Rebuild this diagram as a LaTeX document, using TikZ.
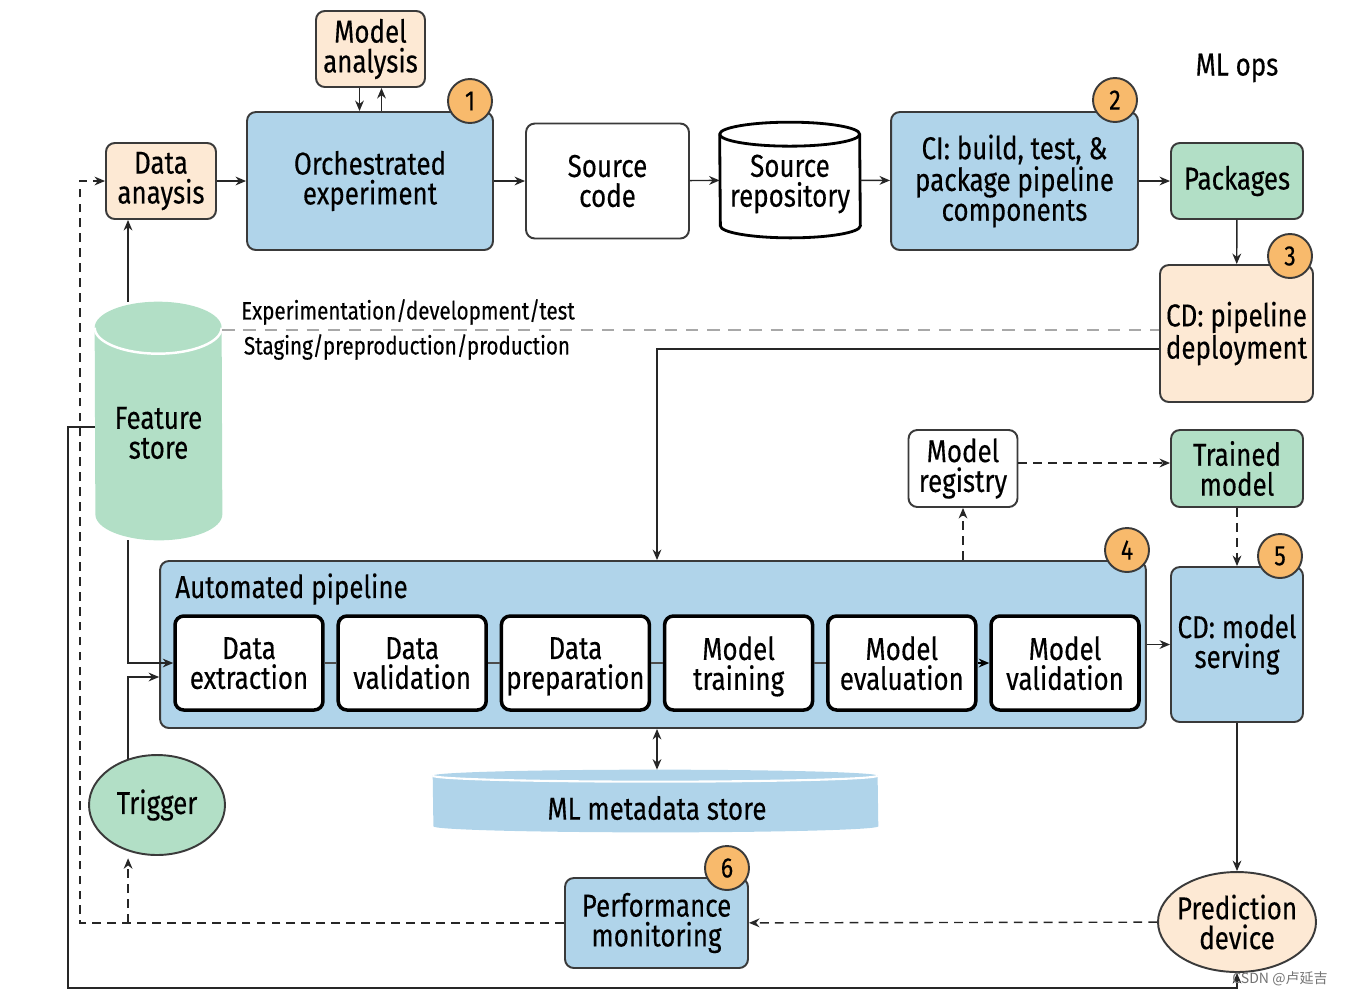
\documentclass[tikz,border=0pt]{standalone}
\usepackage{fontspec}
\setmainfont{Fira Sans}[FakeStretch=0.82,FakeBold=0.3]
\newfontfamily\cjkfont{Noto Sans CJK SC}
\usetikzlibrary{arrows.meta,shapes.geometric}

\definecolor{mlblue}{HTML}{B0D4EA}
\definecolor{mlpeach}{HTML}{FDE9D4}
\definecolor{mlgreen}{HTML}{B2DFC6}
\definecolor{mlorange}{HTML}{F8BA6C}
\definecolor{edgegray}{HTML}{3A3A3A}
\definecolor{divgray}{HTML}{A8A8A8}

\newcommand{\mainfs}{\fontsize{18}{17}\selectfont}
\newcommand{\smallfs}{\fontsize{14.3}{14}\selectfont}
\newcommand{\badgefs}{\fontsize{16}{16}\selectfont}

\begin{document}
\begin{tikzpicture}[x=0.02cm, y=-0.02cm,
  >={Stealth[length=6pt,width=5pt]},
  box/.style={draw=edgegray, line width=1.1pt, rounded corners=5pt, align=center, inner sep=0pt, font=\mainfs},
  stepbox/.style={draw=black, fill=white, line width=2pt, rounded corners=5pt, minimum width=2.96cm, minimum height=1.88cm, align=center, inner sep=0pt, font=\mainfs},
  badge/.style={circle, draw=edgegray, line width=1.1pt, fill=mlorange, minimum size=0.88cm, inner sep=0pt, font=\badgefs},
  oval/.style={ellipse, draw=edgegray, line width=1.1pt, minimum height=2cm, inner xsep=-6pt, inner ysep=0pt, align=center, font=\mainfs},
  txt/.style={align=center, inner sep=0pt, font=\mainfs},
  hold/.style={inner sep=0pt},
  link/.style={draw=black!85, line width=0.8pt},
  dlink/.style={link, dash pattern=on 5pt off 3.5pt},
  steplink/.style={draw=black!70, line width=1.2pt}]

  \useasboundingbox (0,0) rectangle (1345,995);

  \node[box, fill=mlpeach, minimum width=2.18cm, minimum height=1.52cm] (manal) at (370.5,49) {Model\\analysis};
  \node[box, fill=mlpeach, minimum width=2.2cm, minimum height=1.52cm] (danal) at (161,181) {Data\\anaysis};
  \node[box, fill=mlblue, minimum width=4.92cm, minimum height=2.76cm] (orch) at (370,181) {Orchestrated\\experiment};
  \node[box, fill=white, minimum width=3.26cm, minimum height=2.3cm] (srccode) at (607.5,181) {Source\\code};
  \node[box, fill=mlblue, minimum width=4.94cm, minimum height=2.76cm] (ci) at (1014.5,181) {CI: build, test, \&\\package pipeline\\components};
  \node[box, fill=mlgreen, minimum width=2.64cm, minimum height=1.52cm] (pkg) at (1237,181) {Packages};
  \node[box, fill=mlpeach, minimum width=3.06cm, minimum height=2.74cm] (cdpipe) at (1236.5,333.5) {CD: pipeline\\deployment};
  \node[txt] (mlops) at (1237,68) {ML\ ops};

  % source repository
  \node[hold, minimum width=2.8cm, minimum height=2.3cm] (srcrepo) at (790,180) {};
  \draw[black, line width=1.6pt, fill=white] ([yshift=-0.24cm]srcrepo.north west) arc[start angle=180, end angle=0, x radius=1.4cm, y radius=0.24cm]
    -- ([yshift=0.24cm]srcrepo.south east) arc[start angle=0, end angle=-180, x radius=1.4cm, y radius=0.24cm] -- cycle;
  \draw[black, line width=1.6pt] ([yshift=-0.24cm]srcrepo.north west) arc[start angle=180, end angle=360, x radius=1.4cm, y radius=0.24cm];
  \node[txt] (srcrepotxt) at (790,184) {Source\\repository};

  % feature store
  \node[hold, minimum width=2.54cm, minimum height=4.76cm] (fstore) at (158.5,421) {};
  \fill[mlgreen] ([yshift=-0.52cm]fstore.north west) arc[start angle=180, end angle=0, x radius=1.27cm, y radius=0.52cm]
    -- ([yshift=0.52cm]fstore.south east) arc[start angle=0, end angle=-180, x radius=1.27cm, y radius=0.52cm] -- cycle;
  \draw[white, line width=1.4pt] ([yshift=-0.52cm]fstore.north west) arc[start angle=180, end angle=360, x radius=1.27cm, y radius=0.52cm];
  \node[txt] (fstoretxt) at (158.5,433) {Feature\\store};

  % environment divide
  \draw[divgray, line width=1pt, dash pattern=on 7pt off 5pt] ([yshift=1.82cm]fstore.east) -- ([yshift=1.82cm]fstore.east -| cdpipe.west);
  \node[txt, font=\smallfs] (explbl) at (408,312) {Experimentation/development/test};
  \node[txt, font=\smallfs] (stglbl) at (407,347) {Staging/preproduction/production};

  \node[box, fill=white, minimum width=2.18cm, minimum height=1.54cm] (mreg) at (963,468.5) {Model\\registry};
  \node[box, fill=mlgreen, minimum width=2.64cm, minimum height=1.54cm] (tmodel) at (1237,468.5) {Trained\\model};

  \node[box, fill=mlblue, minimum width=19.72cm, minimum height=3.34cm] (pipe) at (653,644.5) {};
  \node[txt, anchor=west] (pipetitle) at (175,589) {Automated pipeline};
  \foreach \i/\lbl in {1/{Data\\extraction},2/{Data\\validation},3/{Data\\preparation},4/{Model\\training},5/{Model\\evaluation},6/{Model\\validation}} {
    \node[stepbox, text depth=0pt] (step\i) at ({249+163.2*(\i-1)},663) {\lbl};
  }
  \foreach \i/\j in {1/2,2/3,3/4,4/5} {
    \draw[steplink] (step\i) -- (step\j);
  }
  \draw[steplink,draw=black,->] (step5) -- (step6);

  \node[box, fill=mlblue, minimum width=2.64cm, minimum height=3.1cm] (cdserve) at (1237,644.5) {CD: model\\serving};

  % metadata store
  \node[hold, minimum width=8.9cm, minimum height=1.24cm] (mlmeta) at (655.5,801) {};
  \fill[mlblue] ([yshift=-0.12cm]mlmeta.north west) arc[start angle=180, end angle=0, x radius=4.45cm, y radius=0.12cm]
    -- ([yshift=0.12cm]mlmeta.south east) arc[start angle=0, end angle=-180, x radius=4.45cm, y radius=0.12cm] -- cycle;
  \draw[white, line width=1.2pt] ([yshift=-0.12cm]mlmeta.north west) arc[start angle=180, end angle=360, x radius=4.45cm, y radius=0.12cm];
  \node[txt] (mlmetatxt) at (657,808) {ML metadata store};

  \node[oval, fill=mlgreen, minimum width=2.72cm] (trigger) at (157,805) {Trigger};
  \node[box, fill=mlblue, minimum width=3.66cm, minimum height=1.8cm] (perf) at (656.5,923) {Performance\\monitoring};
  \node[oval, fill=mlpeach, minimum width=3.16cm] (pred) at (1237,922) {Prediction\\device};

  \node[badge] (b1) at (470,101) {1};
  \node[badge] (b2) at (1115,100) {2};
  \node[badge] (b3) at (1290,256) {3};
  \node[badge] (b4) at (1127,550) {4};
  \node[badge] (b5) at (1280,556) {5};
  \node[badge] (b6) at (727,868) {6};

  \draw[link,->] (danal) -- (orch);
  \draw[link,->] ([xshift=-0.22cm]manal.south) -- ([xshift=-0.22cm]manal.south |- orch.north);
  \draw[link,->] ([xshift=0.22cm]manal.south |- orch.north) -- ([xshift=0.22cm]manal.south);
  \draw[link,->] (orch) -- (srccode);
  \draw[link,->] (srccode) -- (srcrepo);
  \draw[link,->] (srcrepo) -- (ci);
  \draw[link,->] (ci) -- (pkg);
  \draw[link,->] (pkg) -- (cdpipe);

  \draw[link,->] ([xshift=-0.61cm]fstore.north) -- ([xshift=-0.61cm]fstore.north |- danal.south);
  \draw[link,->] ([xshift=-0.61cm]fstore.south) |- (step1.west);
  \draw[link,->] (trigger.122) |- ([yshift=-0.65cm]pipe.west);
  \draw[link,->] ([yshift=-0.12cm]fstore.west) -| (68,988) -| (pred.south);

  \draw[link,->] ([yshift=-0.31cm]cdpipe.west) -| ([xshift=0.08cm]pipe.north);
  \draw[link,<->] ([xshift=0.08cm]pipe.south) -- ([xshift=0.08cm]pipe.south |- mlmeta.north);
  \draw[link,->] (pipe.east |- cdserve.west) -- (cdserve.west);
  \draw[link,->] (cdserve) -- (pred);

  \draw[dlink,->] (mreg.south |- pipe.north) -- (mreg.south);
  \draw[dlink,->] ([yshift=0.11cm]mreg.east) -- ([yshift=0.11cm]mreg.east -| tmodel.west);
  \draw[dlink,->] (tmodel) -- (cdserve);
  \draw[dlink,->] (pred) -- (perf);
  \draw[dlink,->] (perf.west) -| (80,181) -- (danal.west);
  \draw[dlink,->] (perf.west -| trigger.-122) -- ([yshift=-0.14cm]trigger.-122);

  \node[text=black!55, font=\cjkfont\fontsize{8}{8}\selectfont] (csdn) at (1280,979) {CSDN @卢延吉};
\end{tikzpicture}
\end{document}
